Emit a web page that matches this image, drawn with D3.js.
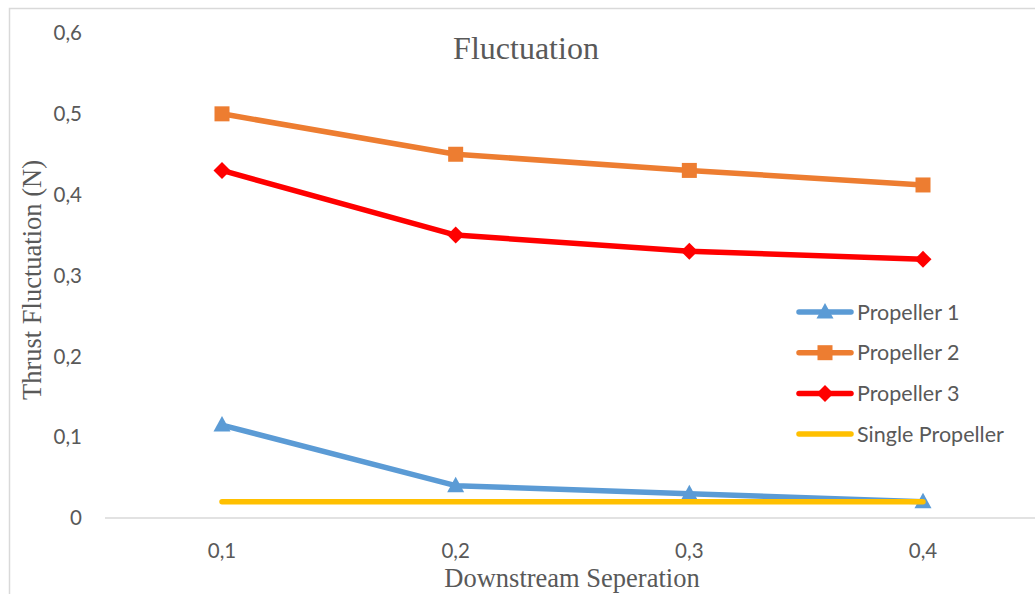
<!DOCTYPE html>
<html>
<head>
<meta charset="utf-8">
<script src="https://cdn.jsdelivr.net/npm/d3@7"></script>
<style>
  html, body { margin: 0; padding: 0; background: #fff; }
  svg { display: block; }
</style>
</head>
<body>
<svg id="chart" width="1035" height="594"></svg>
<script>
// Downstream separation categories and thrust fluctuation per propeller (N)
const separations = ["0,1", "0,2", "0,3", "0,4"];
const propeller1 = [0.115, 0.04, 0.03, 0.02];
const propeller2 = [0.5, 0.45, 0.43, 0.412];
const propeller3 = [0.43, 0.35, 0.33, 0.32];
const singlePropeller = [0.02, 0.02, 0.02, 0.02];
const yTicks = [0, 0.1, 0.2, 0.3, 0.4, 0.5, 0.6];
const seriesNames = ["Propeller 1", "Propeller 2", "Propeller 3", "Single Propeller"];

const series = [
  { name: seriesNames[0], values: propeller1, color: "#5B9BD5", marker: "triangle" },
  { name: seriesNames[1], values: propeller2, color: "#ED7D31", marker: "square" },
  { name: seriesNames[2], values: propeller3, color: "#FF0000", marker: "diamond" },
  { name: seriesNames[3], values: singlePropeller, color: "#FFC000", marker: null }
];

const svg = d3.select("#chart");
const textColor = "#595959";
const serif = "'Liberation Serif', 'Times New Roman', serif";
const sans = "Lato, 'Open Sans', sans-serif";

// chart frame
svg.append("rect")
  .attr("x", 9.5).attr("y", 8.5)
  .attr("width", 1040).attr("height", 600)
  .attr("fill", "none").attr("stroke", "#d9d9d9").attr("stroke-width", 1.5);

const x = d3.scalePoint().domain(separations).range([222, 923]);
const y = d3.scaleLinear().domain([0, 0.6]).range([518, 33]);

// baseline
svg.append("line")
  .attr("x1", 105).attr("x2", 1035)
  .attr("y1", y(0)).attr("y2", y(0))
  .attr("stroke", "#d9d9d9").attr("stroke-width", 1.5);

// y tick labels
const fmt = v => v === 0 ? "0" : d3.format(".1f")(v).replace(".", ",");
svg.append("g")
  .selectAll("text")
  .data(yTicks)
  .join("text")
  .attr("x", 82)
  .attr("y", d => y(d))
  .attr("dy", "0.35em")
  .attr("text-anchor", "end")
  .attr("font-family", sans)
  .attr("font-size", 20.5)
  .attr("fill", textColor)
  .text(fmt);

// x tick labels
svg.append("g")
  .selectAll("text")
  .data(separations)
  .join("text")
  .attr("x", d => x(d))
  .attr("y", 551)
  .attr("dy", "0.35em")
  .attr("text-anchor", "middle")
  .attr("font-family", sans)
  .attr("font-size", 20.5)
  .attr("fill", textColor)
  .text(d => d);

// titles
svg.append("text")
  .attr("x", 526).attr("y", 59)
  .attr("text-anchor", "middle")
  .attr("font-family", serif).attr("font-size", 32)
  .attr("fill", textColor)
  .text("Fluctuation");

svg.append("text")
  .attr("x", 572).attr("y", 587)
  .attr("text-anchor", "middle")
  .attr("font-family", serif).attr("font-size", 26.5)
  .attr("fill", textColor)
  .text("Downstream Seperation");

svg.append("text")
  .attr("transform", "translate(41,280) rotate(-90)")
  .attr("text-anchor", "middle")
  .attr("font-family", serif).attr("font-size", 26.5)
  .attr("fill", textColor)
  .text("Thrust Fluctuation (N)");

// marker shapes
function drawMarker(g, type, cx, cy, color) {
  if (type === "triangle") {
    g.append("path")
      .attr("d", `M${cx},${cy - 9} L${cx + 8.5},${cy + 6.5} L${cx - 8.5},${cy + 6.5} Z`)
      .attr("fill", color);
  } else if (type === "square") {
    g.append("rect")
      .attr("x", cx - 7.5).attr("y", cy - 7.5)
      .attr("width", 15).attr("height", 15)
      .attr("fill", color);
  } else if (type === "diamond") {
    g.append("path")
      .attr("d", `M${cx},${cy - 8.5} L${cx + 8.5},${cy} L${cx},${cy + 8.5} L${cx - 8.5},${cy} Z`)
      .attr("fill", color);
  }
}

const line = d3.line()
  .x((d, i) => x(separations[i]))
  .y(d => y(d));

series.forEach(s => {
  const g = svg.append("g");
  g.append("path")
    .attr("d", line(s.values))
    .attr("fill", "none")
    .attr("stroke", s.color)
    .attr("stroke-width", 5.5)
    .attr("stroke-linecap", "round")
    .attr("stroke-linejoin", "round");
  s.values.forEach((v, i) => drawMarker(g, s.marker, x(separations[i]), y(v), s.color));
});

// legend
const legend = svg.append("g");
series.forEach((s, i) => {
  const ly = 312 + i * 40.7;
  legend.append("line")
    .attr("x1", 799).attr("x2", 851)
    .attr("y1", ly).attr("y2", ly)
    .attr("stroke", s.color).attr("stroke-width", 5.5)
    .attr("stroke-linecap", "round");
  drawMarker(legend, s.marker, 825, ly, s.color);
  legend.append("text")
    .attr("x", 857).attr("y", ly)
    .attr("dy", "0.35em")
    .attr("font-family", sans).attr("font-size", 21.5)
    .attr("fill", textColor)
    .text(s.name);
});
</script>
</body>
</html>
